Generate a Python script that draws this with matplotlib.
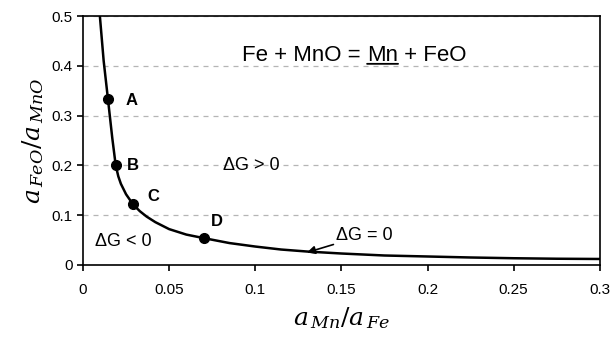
import numpy as np
import matplotlib.pyplot as plt

plt.rcParams['font.family'] = ['Liberation Sans', 'DejaVu Sans']
plt.rcParams['mathtext.fontset'] = 'dejavuserif'

# equilibrium curve
curve_x = [0.0098, 0.012, 0.0145, 0.017, 0.019, 0.0205, 0.022, 0.025, 0.029,
           0.033, 0.037, 0.042, 0.05, 0.06, 0.07, 0.085, 0.1, 0.115, 0.13,
           0.15, 0.175, 0.2, 0.225, 0.25, 0.275, 0.3]
curve_y = [0.5, 0.41, 0.333, 0.255, 0.2, 0.178, 0.163, 0.142, 0.122,
           0.108, 0.097, 0.086, 0.072, 0.061, 0.054, 0.044, 0.037, 0.031, 0.027,
           0.023, 0.019, 0.017, 0.015, 0.0135, 0.0125, 0.012]

# marked points
pt_x = [0.0145, 0.019, 0.029, 0.07]
pt_y = [0.333, 0.2, 0.122, 0.054]
pt_labels = ['A', 'B', 'C', 'D']
label_pos = [(0.0245, 0.331), (0.0255, 0.199), (0.0375, 0.137), (0.074, 0.088)]

fig = plt.figure(figsize=(6.12, 3.41), dpi=100)
ax = fig.add_axes([0.1356, 0.223, 0.8444, 0.73])

ax.plot(curve_x, curve_y, color='black', lw=1.8, zorder=3)
ax.plot(pt_x, pt_y, 'o', color='black', ms=7, zorder=4)
for lab, (lx, ly) in zip(pt_labels, label_pos):
    ax.text(lx, ly, lab, fontsize=12, fontweight='bold', va='center', ha='left')

ax.text(0.081, 0.199, '\u0394G > 0', fontsize=13, va='center', ha='left')
ax.text(0.007, 0.048, '\u0394G < 0', fontsize=13, va='center', ha='left')
ax.annotate('\u0394G = 0', xy=(0.130, 0.025), xytext=(0.147, 0.06),
            fontsize=13, va='center', ha='left',
            arrowprops=dict(arrowstyle='-|>', color='black', lw=1.2,
                            mutation_scale=12, shrinkA=0, shrinkB=0))

# reaction, with Mn underlined
t1 = ax.text(0.0925, 0.42, 'Fe + MnO = ', fontsize=16, va='center', ha='left')
t2 = ax.annotate('Mn', xy=(1, 0), xycoords=t1, fontsize=16, va='bottom', ha='left')
t3 = ax.annotate(' + FeO', xy=(1, 0), xycoords=t2, fontsize=16, va='bottom', ha='left')
ax.annotate('', xy=(0, 0.12), xycoords=t2, xytext=(1, 0.12), textcoords=t2,
            arrowprops=dict(arrowstyle='-', color='black', lw=1.3,
                            shrinkA=0, shrinkB=0))

ax.set_xlim(0, 0.3)
ax.set_ylim(0, 0.5)
ax.set_xticks(np.arange(0, 0.31, 0.05))
ax.set_xticklabels(['0', '0.05', '0.1', '0.15', '0.2', '0.25', '0.3'])
ax.set_yticks(np.arange(0, 0.51, 0.1))
ax.set_yticklabels(['0', '0.1', '0.2', '0.3', '0.4', '0.5'])
ax.tick_params(labelsize=11, direction='out', length=4, width=1.2)
ax.tick_params(axis='x', pad=9)
for s in ax.spines.values():
    s.set_linewidth(1.2)

ax.grid(axis='y', ls=(0, (4, 4)), color='#b5b5b5', lw=0.9)
ax.set_axisbelow(True)

ax.set_xlabel(r'$a_{\,Mn}/a_{\,Fe}$', fontsize=18, labelpad=6)
ax.set_ylabel(r'$a_{\,FeO}/a_{\,MnO}$', fontsize=18, labelpad=4)

fig.savefig('out.png', dpi=100)
